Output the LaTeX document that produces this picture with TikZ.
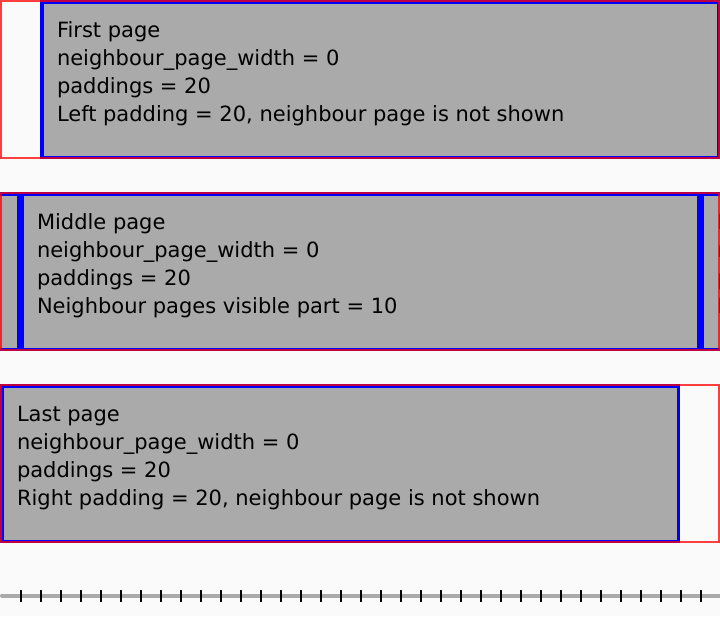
\documentclass[tikz,border=0pt]{standalone}
\usepackage{fontspec}
\setmainfont{DejaVu Sans}
\definecolor{bgcol}{HTML}{FAFAFA}
\definecolor{pagefill}{HTML}{AAAAAA}
\begin{document}
\begin{tikzpicture}[x=1pt,y=-1pt,
  pagebox/.style={fill=pagefill,draw=blue,line width=3.5pt},
  viewport/.style={draw=red,draw opacity=0.75,line width=2pt},
  label/.style={anchor=base west,inner sep=0pt,outer sep=0pt,
    font=\fontsize{21}{28}\selectfont,text=black},
  tick/.style={draw=black,line width=2pt}]
\useasboundingbox (0,0) rectangle (720,616);
\fill[bgcol] (0,0) rectangle (720,616);

% ---- first page: page starts 40 from the left edge
\draw[pagebox] (41.75,1.75) rectangle (718.25,157.25);
\node[label] (f1) at (57,37) {First page};
\node[label] (f2) at (57,65) {neighbour\_page\_width = 0};
\node[label] (f3) at (57,93) {paddings = 20};
\node[label] (f4) at (57,121) {Left padding = 20, neighbour page is not shown};
\draw[viewport] (1,1) rectangle (719,158);

% ---- middle page with both neighbours partly visible
\begin{scope}
  \clip (0,192) rectangle (720,351);
  \draw[pagebox] (-658.25,193.75) rectangle (18.25,349.25);
  \draw[pagebox] (21.75,193.75) rectangle (698.25,349.25);
  \draw[pagebox] (701.75,193.75) rectangle (1378.25,349.25);
  \node[label] (n1) at (717,229) {Last page};
  \node[label] (n2) at (717,257) {neighbour\_page\_width = 0};
  \node[label] (n3) at (717,285) {paddings = 20};
  \node[label] (n4) at (717,313) {Right padding = 20};
\end{scope}
\node[label] (m1) at (37,229) {Middle page};
\node[label] (m2) at (37,257) {neighbour\_page\_width = 0};
\node[label] (m3) at (37,285) {paddings = 20};
\node[label] (m4) at (37,313) {Neighbour pages visible part = 10};
\draw[viewport] (1,193) rectangle (719,350);

% ---- last page: page ends 40 before the right edge
\draw[pagebox] (1.75,385.75) rectangle (678.25,541.25);
\node[label] (l1) at (17,421) {Last page};
\node[label] (l2) at (17,449) {neighbour\_page\_width = 0};
\node[label] (l3) at (17,477) {paddings = 20};
\node[label] (l4) at (17,505) {Right padding = 20, neighbour page is not shown};
\draw[viewport] (1,385) rectangle (719,542);

% ---- scale ruler
\coordinate (rs) at (2,595.5);
\coordinate (re) at (720,595.5);
\draw[pagefill,line width=4pt,line cap=round] (rs) -- (re);
\foreach \k in {1,...,36}
  \draw[tick] (20*\k+0.5,590) -- (20*\k+0.5,602);
\end{tikzpicture}
\end{document}
